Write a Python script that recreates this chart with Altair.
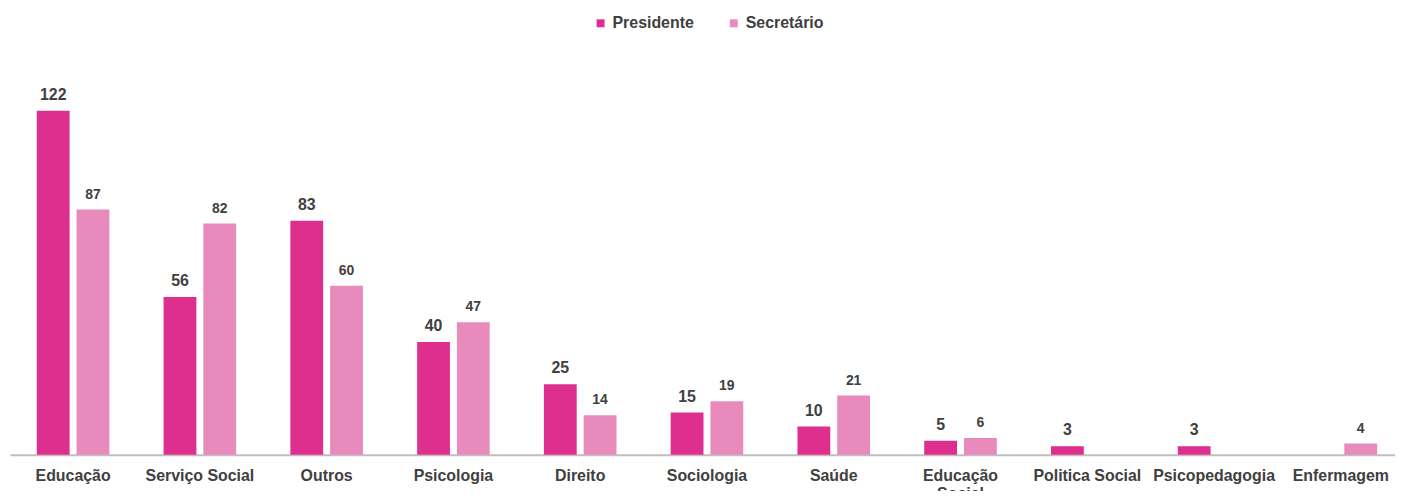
import altair as alt
import pandas as pd

categories = ["Educação", "Serviço Social", "Outros", "Psicologia", "Direito", "Sociologia",
              "Saúde", "Educação Social", "Politica Social", "Psicopedagogia", "Enfermagem"]
series = ["Presidente", "Secretário"]
presidente = [122, 56, 83, 40, 25, 15, 10, 5, 3, 3, None]
secretario = [87, 82, 60, 47, 14, 19, 21, 6, None, None, 4]
colors = ["#DE2F8F", "#E88BBC"]
label_sizes = [16, 14]

rows = []
for c, p, s in zip(categories, presidente, secretario):
    if p is not None:
        rows.append({"cat": c, "series": "Presidente", "value": p})
    if s is not None:
        rows.append({"cat": c, "series": "Secretário", "value": s})
df = pd.DataFrame(rows)

FONT = "Liberation Sans"
TXT = "#404040"

x = alt.X("cat:N", sort=categories,
          scale=alt.Scale(paddingInner=0.4275, paddingOuter=0.1763, align=0.6, round=False),
          axis=alt.Axis(title=None, labelAngle=0, ticks=False, domainColor="#bfbfbf",
                        domainWidth=2, labelFont=FONT, labelFontSize=16,
                        labelFontWeight="bold", labelColor=TXT, labelPadding=13,
                        labelLineHeight=18, labelLimit=300,
                        labelExpr="datum.label == 'Educação Social' ? ['Educação', 'Social'] : datum.label"))
xo = alt.XOffset("series:N", sort=series,
                 scale=alt.Scale(domain=series, paddingInner=0.175, paddingOuter=0, round=False))
y = alt.Y("value:Q", scale=alt.Scale(domain=[0, 140]), axis=None)

base = alt.Chart(df)

bars = base.mark_bar().encode(
    x=x, xOffset=xo, y=y,
    color=alt.Color("series:N", sort=series,
                    scale=alt.Scale(domain=series, range=colors),
                    legend=alt.Legend(title=None, orient="none", direction="horizontal",
                                      legendX=586, legendY=-45, symbolType="square",
                                      symbolSize=64, symbolStrokeWidth=0,
                                      labelFont=FONT, labelFontSize=16,
                                      labelFontWeight="bold", labelColor=TXT,
                                      labelOffset=4, columnPadding=32)),
)

layers = [bars]
for name, fs in zip(series, label_sizes):
    layers.append(
        base.transform_filter(alt.datum.series == name)
        .mark_text(baseline="bottom", dy=-8, fontWeight="bold", font=FONT, color=TXT, fontSize=fs)
        .encode(x=x, xOffset=xo, y=y, text=alt.Text("value:Q"))
    )

chart = alt.layer(*layers).properties(
    width=1393, height=397,
    padding={"left": 2, "top": 51, "right": 0, "bottom": 35},
    autosize=alt.AutoSizeParams(type="none"),
).configure_view(stroke=None)

chart.save("out.html", embed_options={"renderer": "svg", "actions": False})
